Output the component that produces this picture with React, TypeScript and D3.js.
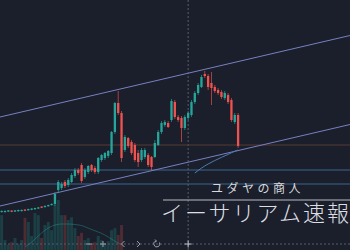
import React from "react";
import * as d3 from "d3";

const W = 350;
const H = 250;

// ETH/USD candles, oldest first
const OPEN = [
  1606, 1606, 1614, 1631, 1614, 1620, 1622, 1647, 1636, 1643, 1652, 1662, 1695, 1686, 1700, 1718,
  1736, 1960, 1992, 2088, 2040, 2088, 2184, 2280, 2360, 2168, 2248, 2360, 2312, 2248, 2440, 2472,
  2504, 2552, 2888, 3352, 3192, 2600, 2792, 2728, 2680, 2552, 2440, 2488, 2520, 2488, 2488, 2680,
  2888, 3000, 3032, 3080, 3368, 3128, 3112, 2952, 3112, 3160, 3368, 3512, 3608, 3816, 3784, 3672,
  3608, 3560, 3528, 3432, 3480, 3400, 3048, 3160,
];
const CLOSE = [
  1626, 1626, 1634, 1611, 1634, 1640, 1642, 1627, 1656, 1663, 1672, 1682, 1675, 1706, 1720, 1738,
  1896, 2088, 2056, 2024, 2120, 2200, 2280, 2232, 2104, 2280, 2344, 2280, 2248, 2472, 2520, 2552,
  2584, 2888, 3352, 3192, 2472, 2808, 2664, 2552, 2440, 2408, 2600, 2600, 2360, 2328, 2712, 2888,
  3032, 3048, 2968, 3384, 3128, 3080, 2952, 3128, 3192, 3368, 3512, 3640, 3768, 3784, 3608, 3592,
  3544, 3512, 3448, 3512, 3368, 3080, 3160, 2664,
];
const HIGH = [
  1632, 1632, 1640, 1637, 1640, 1646, 1648, 1653, 1662, 1669, 1678, 1688, 1701, 1712, 1726, 1744,
  1928, 2120, 2088, 2120, 2152, 2232, 2312, 2312, 2392, 2312, 2360, 2376, 2344, 2488, 2536, 2568,
  2600, 2904, 3368, 3544, 3224, 2840, 2808, 2760, 2712, 2600, 2632, 2632, 2552, 2504, 2760, 2920,
  3064, 3080, 3064, 3416, 3400, 3160, 3144, 3160, 3224, 3400, 3544, 3672, 3800, 3864, 3816, 3848,
  3640, 3592, 3560, 3544, 3512, 3432, 3192, 3192,
];
const LOW = [
  1600, 1600, 1608, 1605, 1608, 1614, 1616, 1621, 1630, 1637, 1646, 1656, 1669, 1680, 1694, 1712,
  1704, 1912, 1960, 1992, 2008, 2072, 2152, 2200, 2072, 2136, 2216, 2248, 2216, 2216, 2408, 2440,
  2472, 2520, 2856, 3160, 2408, 2568, 2632, 2520, 2408, 2328, 2408, 2456, 2328, 2280, 2472, 2664,
  2856, 2968, 2952, 3048, 3096, 3048, 2728, 2920, 3080, 3128, 3336, 3480, 3592, 3752, 3560, 3320,
  3512, 3480, 3416, 3400, 3336, 3048, 3016, 2632,
];

// traded volume (only the first sessions are shown in the pane)
const VOLUME = [
  67, 19, 10, 15, 23, 12, 19, 62, 54, 27, 71, 67, 23, 48, 54, 38,
  87, 96, 67, 67, 58, 63, 42, 27, 33, 19, 23, 12, 15, 27, 19, 13,
  17, 38, 42, 29, 48,
];
// volume moving average: [candle index, value]
const VOLUME_MA: [number, number][] = [
  [7, 6], [9, 15], [11, 27], [13, 38], [16, 48], [18, 50], [20, 50], [22, 49],
  [24, 47], [26, 42], [28, 37], [30, 32], [32, 25], [34, 17], [36, 10],
];
// long moving average on price: [candle index, price]
const PRICE_MA: [number, number][] = [
  [58, 2232], [60, 2310], [62, 2376], [64, 2432], [66, 2482], [68, 2530], [70, 2580], [71, 2600],
];

// trend channel: [candle index, price] pairs at each end
const CHANNEL_UPPER: [number, number][] = [[-0.5, 3128], [104.6, 4432]];
const CHANNEL_LOWER: [number, number][] = [[-0.5, 1704], [104.6, 3008]];
// horizontal levels
const SUPPORT_LEVELS = [2280, 2056];
const PIVOT_LEVEL = 2680;
// crosshair position
const CROSS_INDEX = 56;
const CROSS_VOLUME = 11.5;

const SUBTITLE = "ユダヤの商人";
const TITLE = "イーサリアム速報";

const UP = "#26a69a";
const DOWN = "#ef5350";

export default function App() {
  const n = OPEN.length;
  const step = 3.33;
  const x = d3.scaleLinear().domain([0, n - 1]).range([step / 2, step / 2 + step * (n - 1)]);
  const y = d3.scaleLinear().domain([1000, 5000]).range([H, 0]);
  const vy = d3.scaleLinear().domain([0, 100]).range([H, H - 52]);
  const bodyW = 2.3;

  const line = d3
    .line<[number, number]>()
    .x((d) => x(d[0]))
    .y((d) => y(d[1]));
  const curve = d3
    .line<[number, number]>()
    .x((d) => x(d[0]))
    .y((d) => y(d[1]))
    .curve(d3.curveMonotoneX);
  const volLine = d3
    .line<[number, number]>()
    .x((d) => x(d[0]))
    .y((d) => vy(d[1]))
    .curve(d3.curveMonotoneX);

  const cx = x(CROSS_INDEX);
  const cy = vy(CROSS_VOLUME);
  const toolY = cy;
  const iconColor = "#9aa0ad";

  return (
    <svg
      width={W}
      height={H}
      style={{ position: "fixed", left: 0, top: 0, display: "block" }}
      fontFamily="'Noto Sans CJK JP', 'Noto Sans', sans-serif"
    >
      <rect width={W} height={H} fill="#1a1f2b" />

      {/* volume pane */}
      <g>
        {VOLUME.map((v, i) => (
          <rect
            key={i}
            x={x(i) - step / 2 + 0.2}
            width={step - 0.4}
            y={vy(v)}
            height={vy(0) - vy(v)}
            fill={CLOSE[i] >= OPEN[i] ? UP : DOWN}
            opacity={0.24}
          />
        ))}
        <path d={volLine(VOLUME_MA) ?? ""} fill="none" stroke={UP} strokeOpacity={0.4} strokeWidth={1} />
      </g>

      {/* crosshair */}
      <line x1={cx} x2={cx} y1={0} y2={H} stroke="#565c6c" strokeDasharray="2 2" />
      <line x1={0} x2={W} y1={cy} y2={cy} stroke="#565c6c" strokeDasharray="2 2" />

      {/* levels */}
      <line x1={0} x2={W} y1={y(PIVOT_LEVEL)} y2={y(PIVOT_LEVEL)} stroke="#573a35" strokeWidth={1} />
      {SUPPORT_LEVELS.map((p) => (
        <line key={p} x1={0} x2={W} y1={y(p)} y2={y(p)} stroke="#3c6791" strokeWidth={1} />
      ))}

      {/* channel */}
      <path d={line(CHANNEL_UPPER) ?? ""} fill="none" stroke="#7880c0" strokeWidth={1} />
      <path d={line(CHANNEL_LOWER) ?? ""} fill="none" stroke="#7880c0" strokeWidth={1} />

      {/* price moving average */}
      <path d={curve(PRICE_MA) ?? ""} fill="none" stroke="#4a7db3" strokeWidth={1} />

      {/* candles */}
      <g>
        {OPEN.map((o, i) => {
          const c = CLOSE[i];
          const col = c >= o ? UP : DOWN;
          const top = y(Math.max(o, c));
          const bot = y(Math.min(o, c));
          return (
            <g key={i}>
              <line x1={x(i)} x2={x(i)} y1={y(HIGH[i])} y2={y(LOW[i])} stroke={col} strokeWidth={0.8} opacity={0.85} />
              <rect x={x(i) - bodyW / 2} width={bodyW} y={top} height={Math.max(bot - top, 1)} fill={col} />
            </g>
          );
        })}
      </g>

      {/* toolbar */}
      <g stroke={iconColor} strokeWidth={1} fill="none">
        <line x1={86} x2={92} y1={toolY} y2={toolY} />
        <line x1={100} x2={106} y1={toolY} y2={toolY} />
        <line x1={103} x2={103} y1={toolY - 3} y2={toolY + 3} />
        <polyline points={`${124.5},${toolY - 3} ${121.5},${toolY} ${124.5},${toolY + 3}`} />
        <polyline points={`${137},${toolY - 3} ${140},${toolY} ${137},${toolY + 3}`} />
        <path d={`M ${159.5} ${toolY - 1.5} A 3 3 0 1 1 ${156} ${toolY - 3}`} />
        <polyline points={`${155},${toolY - 4.5} ${156.5},${toolY - 3} ${155},${toolY - 1.5}`} />
        <line x1={cx - 3.5} x2={cx + 3.5} y1={cy} y2={cy} stroke="#c0c4cc" />
        <line x1={cx} x2={cx} y1={cy - 3.5} y2={cy + 3.5} stroke="#c0c4cc" />
      </g>

      {/* caption */}
      <text x={257.5} y={192.5} fontSize={12} letterSpacing={3.5} fill="#d6d8dc" textAnchor="middle">
        {SUBTITLE}
      </text>
      <line x1={163} x2={W} y1={200} y2={200} stroke="#b8bcc4" strokeWidth={1} />
      <text x={161} y={220.5} fontSize={22} fontWeight={300} letterSpacing={2} fill="#dcdee2">
        {TITLE}
      </text>
    </svg>
  );
}
